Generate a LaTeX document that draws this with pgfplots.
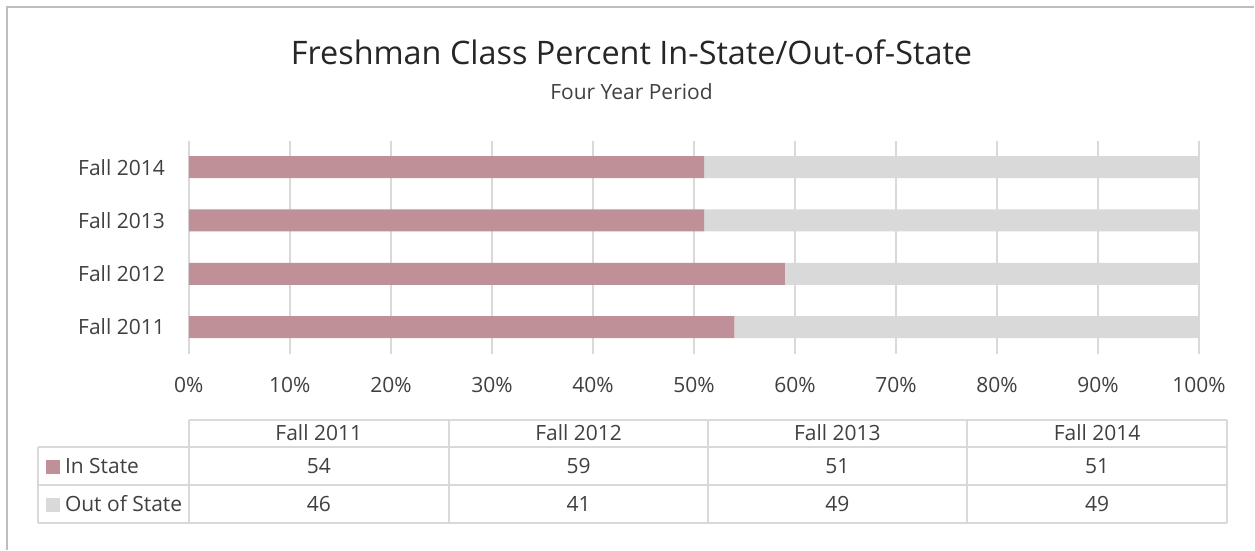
\documentclass[border=0pt]{standalone}
\usepackage{pgfplots}
\pgfplotsset{compat=1.18}
\usepackage{fontspec}
\setmainfont{Open Sans}
\definecolor{instate}{RGB}{192,144,152}
\definecolor{outstate}{RGB}{217,217,217}
\definecolor{gridc}{RGB}{217,217,217}
\definecolor{txt}{RGB}{64,64,64}
\definecolor{frame}{RGB}{190,190,190}
\begin{document}
\begin{tikzpicture}[x=0.5pt,y=0.5pt]
% canvas (pixel coords, y up = 550 - py)
\fill[white] (0,0) rectangle (1255,550);
\draw[frame, line width=1pt] (7,0) -- (7,543) -- (1255,543);
% title
\node[text=black!85, font=\fontsize{16.2}{19}\selectfont] at (632,498) {Freshman Class Percent In-State/Out-of-State};
\node[text=txt, font=\fontsize{10.5}{12}\selectfont] at (632,458) {Four Year Period};
\begin{axis}[
  at={(94.5pt,98pt)}, anchor=south west,
  scale only axis, width=505.5pt, height=106.67pt,
  xbar stacked, bar width=11pt,
  xmin=0, xmax=100, ymin=-0.5, ymax=3.5,
  xtick={0,10,...,100},
  xticklabels={0\%,10\%,20\%,30\%,40\%,50\%,60\%,70\%,80\%,90\%,100\%},
  ytick={0,1,2,3},
  yticklabels={Fall 2011,Fall 2012,Fall 2013,Fall 2014},
  axis line style={draw=none},
  major tick style={draw=none},
  xmajorgrids, grid style={gridc, line width=1pt},
  ticklabel style={text=txt, font=\fontsize{10.5}{12}\selectfont},
  xticklabel style={yshift=-8.5pt},
  yticklabel style={xshift=-8.5pt},
  clip=false,
]
\addplot[fill=instate, draw=none] coordinates {(54,0) (59,1) (51,2) (51,3)};
\addplot[fill=outstate, draw=none] coordinates {(46,0) (41,1) (49,2) (49,3)};
\end{axis}
% data table
\begin{scope}[gridc, line width=1pt]
\draw (189,130) -- (1228,130);
\draw (38,103) -- (1228,103);
\draw (38,65) -- (1228,65);
\draw (38,27) -- (1228,27);
\draw (38,103) -- (38,27);
\foreach \xx in {189,449,709,968,1228} \draw (\xx,130) -- (\xx,27);
\end{scope}
\begin{scope}[font=\fontsize{10.5}{12}\selectfont, text=txt]
\node at (319,117) {Fall 2011};
\node at (579,117) {Fall 2012};
\node at (838,117) {Fall 2013};
\node at (1098,117) {Fall 2014};
\fill[instate] (46,90) rectangle (60,76);
\fill[outstate] (46,52) rectangle (60,38);
\node[anchor=west] at (58,84) {In State};
\node[anchor=west] at (58,46) {Out of State};
\node at (319,84) {54};
\node at (579,84) {59};
\node at (838,84) {51};
\node at (1098,84) {51};
\node at (319,46) {46};
\node at (579,46) {41};
\node at (838,46) {49};
\node at (1098,46) {49};
\end{scope}
\end{tikzpicture}
\end{document}
